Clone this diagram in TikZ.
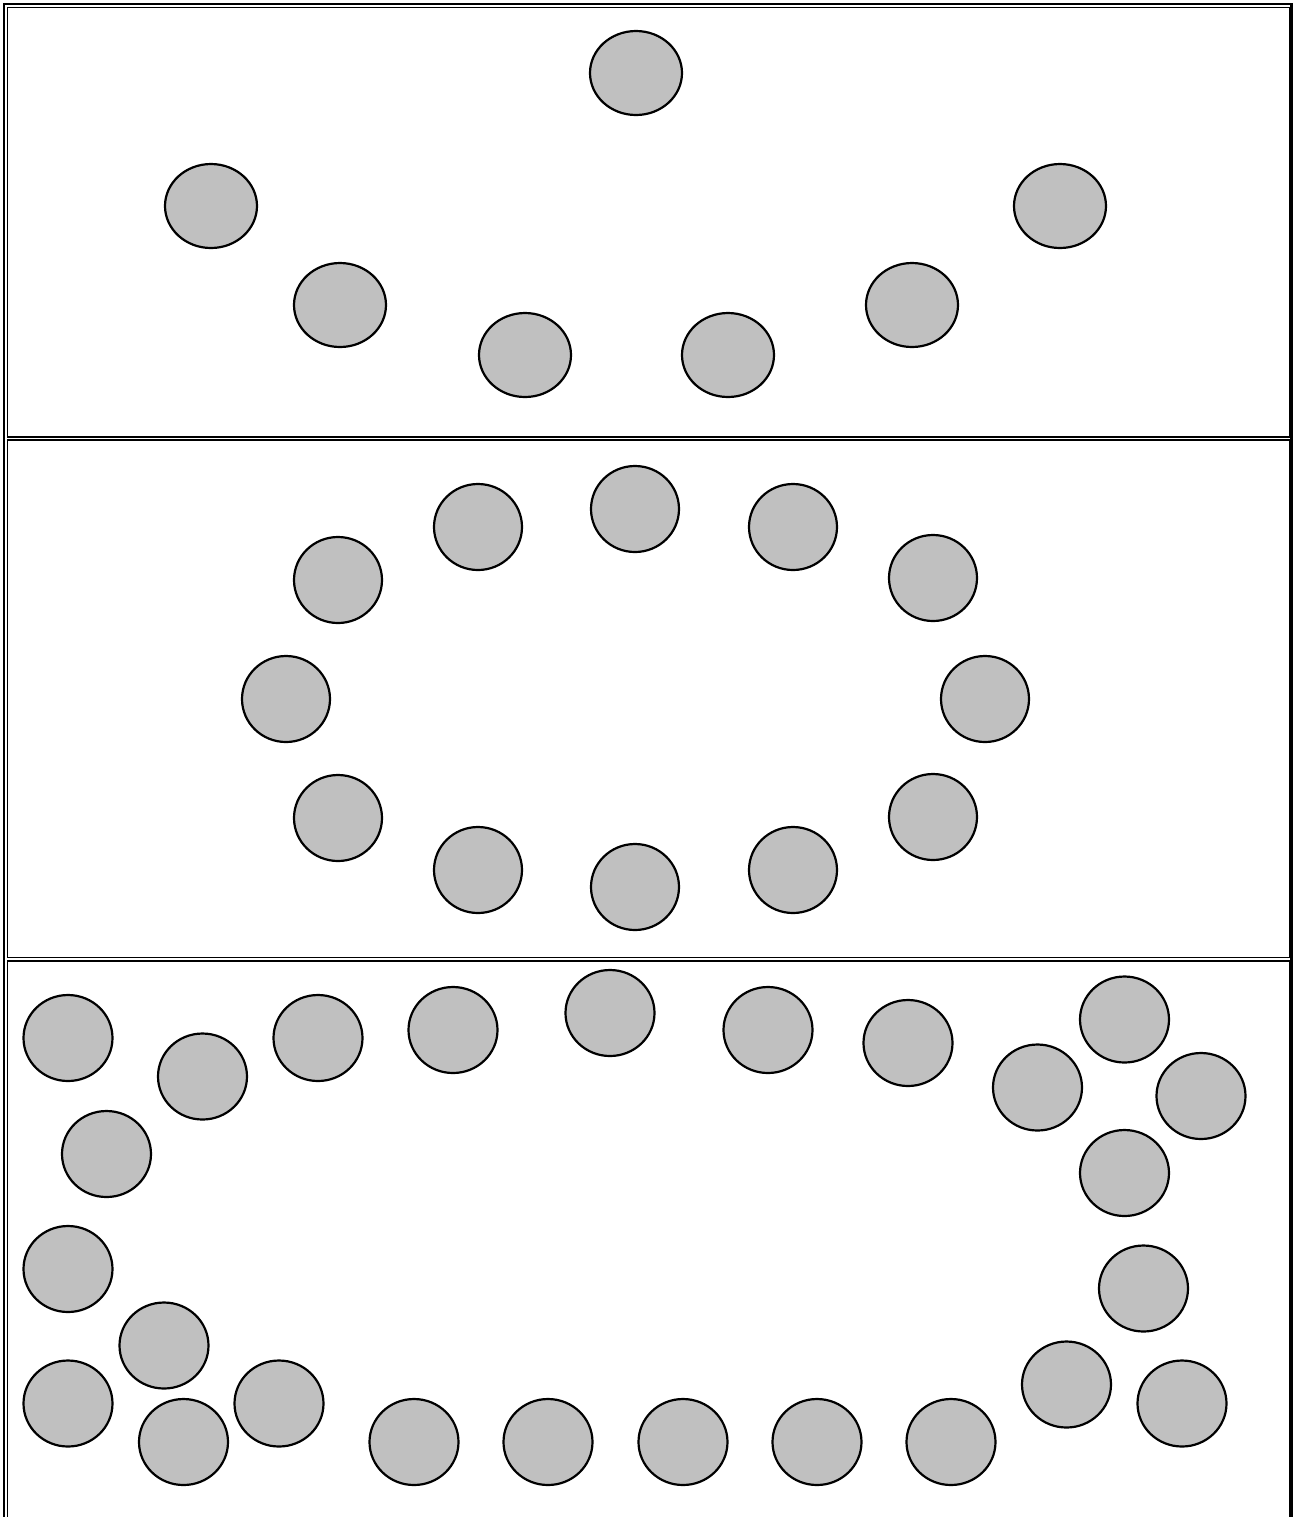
\documentclass[tikz,border=0pt]{standalone}
\definecolor{discgray}{RGB}{192,192,192}
\tikzset{
  disc/.style={fill=discgray,draw=black,line width=1.1pt},
  outerframe/.style={draw=black,line width=1.1pt},
  innerframe/.style={draw=black,line width=0.75pt}
}
\begin{document}
\begin{tikzpicture}[x=0.5pt,y=-0.5pt]
        \useasboundingbox (0,0) rectangle (1292,1517);
        % frames
        \draw[outerframe] (4.2,4.2) rectangle (1291.4,1540);
        \draw[innerframe] (7.6,7.6) rectangle (1289.6,437);
        \draw[innerframe] (7.6,440) rectangle (1289.6,957.6);
        \draw[innerframe] (7.6,961) rectangle (1289.6,1540);
        % first panel
        \path[disc] (636,73) ellipse (46 and 42);
        \path[disc] (211,206) ellipse (46 and 42);
        \path[disc] (1060,206) ellipse (46 and 42);
        \path[disc] (340,305) ellipse (46 and 42);
        \path[disc] (912,305) ellipse (46 and 42);
        \path[disc] (525,355) ellipse (46 and 42);
        \path[disc] (728,355) ellipse (46 and 42);
        % second panel
        \path[disc] (635,509) ellipse (44 and 43);
        \path[disc] (478,527) ellipse (44 and 43);
        \path[disc] (793,527) ellipse (44 and 43);
        \path[disc] (338,580) ellipse (44 and 43);
        \path[disc] (933,578) ellipse (44 and 43);
        \path[disc] (286,699) ellipse (44 and 43);
        \path[disc] (985,699) ellipse (44 and 43);
        \path[disc] (338,818) ellipse (44 and 43);
        \path[disc] (933,817) ellipse (44 and 43);
        \path[disc] (478,870) ellipse (44 and 43);
        \path[disc] (793,870) ellipse (44 and 43);
        \path[disc] (635,887) ellipse (44 and 43);
        % third panel
        \path[disc] (68,1038) ellipse (44.5 and 43);
        \path[disc] (202.5,1076.5) ellipse (44.5 and 43);
        \path[disc] (318,1038) ellipse (44.5 and 43);
        \path[disc] (453,1030) ellipse (44.5 and 43);
        \path[disc] (610,1013) ellipse (44.5 and 43);
        \path[disc] (768,1030) ellipse (44.5 and 43);
        \path[disc] (908,1043) ellipse (44.5 and 43);
        \path[disc] (1037.5,1087.5) ellipse (44.5 and 43);
        \path[disc] (1124.5,1019.5) ellipse (44.5 and 43);
        \path[disc] (1201,1096) ellipse (44.5 and 43);
        \path[disc] (1124.5,1173) ellipse (44.5 and 43);
        \path[disc] (106.5,1154) ellipse (44.5 and 43);
        \path[disc] (68,1269) ellipse (44.5 and 43);
        \path[disc] (164,1345.5) ellipse (44.5 and 43);
        \path[disc] (68,1403.5) ellipse (44.5 and 43);
        \path[disc] (183.5,1442) ellipse (44.5 and 43);
        \path[disc] (279,1403.5) ellipse (44.5 and 43);
        \path[disc] (414,1442) ellipse (44.5 and 43);
        \path[disc] (548,1442) ellipse (44.5 and 43);
        \path[disc] (683,1442) ellipse (44.5 and 43);
        \path[disc] (817,1442) ellipse (44.5 and 43);
        \path[disc] (951,1442) ellipse (44.5 and 43);
        \path[disc] (1066.5,1384.5) ellipse (44.5 and 43);
        \path[disc] (1182,1403.5) ellipse (44.5 and 43);
        \path[disc] (1143.5,1288.5) ellipse (44.5 and 43);
      \end{tikzpicture}
\end{document}
